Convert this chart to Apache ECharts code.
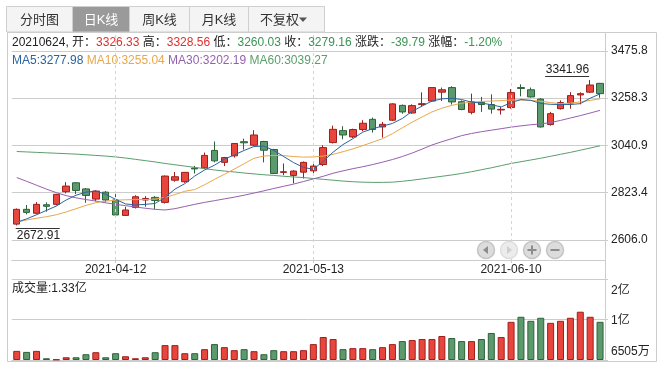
<!DOCTYPE html>
<html><head><meta charset="utf-8">
<script src="https://cdn.jsdelivr.net/npm/echarts@6/dist/echarts.min.js"></script>
<style>html,body{margin:0;padding:0;background:#fff}#c{width:667px;height:371px}</style>
</head><body><div id="c"></div>
<script>
const dates = ['2021-03-26','2021-03-29','2021-03-30','2021-03-31','2021-04-01','2021-04-02','2021-04-06','2021-04-07','2021-04-08','2021-04-09',
'2021-04-12','2021-04-13','2021-04-14','2021-04-15','2021-04-16','2021-04-19','2021-04-20','2021-04-21','2021-04-22','2021-04-23',
'2021-04-26','2021-04-27','2021-04-28','2021-04-29','2021-04-30','2021-05-06','2021-05-07','2021-05-10','2021-05-11','2021-05-12',
'2021-05-13','2021-05-14','2021-05-17','2021-05-18','2021-05-19','2021-05-20','2021-05-21','2021-05-24','2021-05-25','2021-05-26',
'2021-05-27','2021-05-28','2021-05-31','2021-06-01','2021-06-02','2021-06-03','2021-06-04','2021-06-07','2021-06-08','2021-06-09',
'2021-06-10','2021-06-11','2021-06-15','2021-06-16','2021-06-17','2021-06-18','2021-06-21','2021-06-22','2021-06-23','2021-06-24'];
const opens = [2679,2747,2729,2768,2770,2828,2869,2841,2794,2826,
2790,2719,2756,2790,2802,2779,2881,2874,2937,2938,
3018,2963,2993,3058,3042,3059,3022,2917,2903,2918,
2924,2953,3054,3109,3080,3114,3161,3126,3157,3225,
3190,3229,3245,3286,3307,3242,3193,3239,3229,3204,
3215,3307,3297,3254,3137,3210,3236,3273,3286,3326.33];
const closes = [2747,2733,2770,2761,2816,2854,2834,2811,2831,2790,
2721,2744,2805,2797,2788,2900,2897,2917,2933,2995,
2970,2985,3050,3053,3089,3019,2912,2920,2923,2963,
2946,3031,3115,3089,3114,3143,3114,3138,3232,3195,
3224,3233,3307,3297,3241,3206,3242,3229,3208,3207,
3284,3303,3264,3126,3187,3238,3270,3279,3318.95,3279.16];
const lows = [2672.91,2724,2724,2736,2765,2820,2817,2777,2784,2780,
2710,2717,2751,2759,2747,2774,2874,2869,2912,2933,
2963,2946,2985,3022,3039,2963,2909,2904,2866,2889,
2912,2946,3050,3069,3075,3106,3100,3077,3153,3187,
3187,3218,3242,3245,3229,3203,3184,3195,3187,3183,
3210,3267,3261,3123,3132,3206,3210,3230,3282,3260.03];
const highs = [2751,2767,2780,2779,2818,2872,2872,2845,2835,2831,
2817,2759,2812,2808,2808,2903,2919,2919,2947,3008,
3059,2988,3052,3072,3111,3062,3025,2958,2927,2967,
2965,3042,3132,3129,3118,3157,3169,3149,3235,3229,
3230,3285,3309,3307,3313,3248,3279,3264,3276,3218,
3300,3322,3307,3258,3195,3248,3286,3285,3341.96,3328.56];
const volumes = [2250,2000,2250,425,125,675,675,1425,1925,675,
1675,925,425,675,1925,3675,3675,1675,1675,2675,
3925,3175,2425,2675,2175,1425,2425,2175,2175,2425,
3925,5675,5175,2675,2925,2925,2675,3175,3925,4675,
4925,5175,5175,5925,5425,4675,4675,5175,6675,5675,
9425,10675,9675,10425,9175,9675,10425,11925,10675,9425];
const ma5 = [2688,2703,2722,2742,2762,2790,2812,2826,2831,2816,
2793,2772,2767,2770,2774,2802,2840,2865,2900,2928,
2950,2978,2997,3018,3036,3038,3018,2990,2962,2940,
2931,2968,3010,3045,3072,3102,3118,3130,3142,3165,
3198,3222,3245,3255,3258,3252,3240,3236,3228,3218,
3238,3252,3248,3234,3230,3229,3229,3233,3258,3277.98];
const ma10 = [2688,2698,2706,2713,2722,2735,2750,2765,2778,2785,
2789,2791,2792,2792,2794,2802,2815,2830,2838,2860,
2885,2908,2932,2957,2982,2992,2995,2994,2990,2987,
2988,2992,3000,3012,3025,3040,3056,3072,3095,3122,
3148,3172,3195,3212,3225,3235,3240,3243,3245,3247,
3250,3250,3248,3244,3238,3233,3236,3241,3248,3255.04];
const ma30 = [2893,2876,2858,2840,2824,2810,2800,2792,2785,2777,
2770,2764,2758,2752,2747,2744,2750,2760,2770,2779,
2787,2795,2803,2812,2822,2832,2843,2853,2863,2875,
2887,2899,2913,2924,2934,2943,2953,2964,2976,2990,
3006,3024,3043,3058,3072,3086,3096,3104,3111,3118,
3125,3131,3136,3140,3146,3156,3167,3178,3190,3202.19];
const ma60 = [3013,3011,3009,3007,3005,3003,3001,2998,2995,2992,
2988,2983,2977,2971,2965,2958,2952,2946,2940,2934,
2928,2923,2919,2914,2910,2906,2903,2899,2896,2893,
2889,2885,2881,2877,2874,2872,2871,2871,2872,2876,
2881,2887,2893,2899,2905,2912,2920,2929,2938,2948,
2958,2966,2974,2982,2991,3000,3009,3019,3029,3039.27];
const priceTicks = [2605.98, 2823.43, 3040.88, 3258.33, 3475.78];
const volTicks = [0, 10000, 20000];
const volTickLabels = ['6505万', '1亿', '2亿'];
const dateLabels = ['2021-04-12', '2021-05-13', '2021-06-10'];
const tabNames = ['分时图', '日K线', '周K线', '月K线', '不复权'];
const lastVolumeText = '1.33亿';

const FONT = "'Liberation Sans','Noto Sans CJK SC',sans-serif";
const UP = '#e8463d', UP_B = '#9e1f1b', DN = '#5c9a6e', DN_B = '#2c6238';
const C5 = '#2a64a0', C10 = '#e8a84c', C30 = '#9660b0', C60 = '#5a9e6c';
const GRID = '#cccccc';

const n = dates.length;
const candleData = dates.map((d, i) => [opens[i], closes[i], lows[i], highs[i]]);
const volData = volumes.map((v, i) => {
  const up = closes[i] >= opens[i];
  return { value: v, itemStyle: { color: up ? UP : DN, borderColor: up ? UP_B : DN_B } };
});
const labelIdx = dateLabels.map(d => dates.indexOf(d));
let hiI = 0, loI = 0;
for (let i = 0; i < n; i++) { if (highs[i] > highs[hiI]) hiI = i; if (lows[i] < lows[loI]) loI = i; }

const L = n - 1;
const chg = closes[L] - closes[L - 1];
const pct = chg / closes[L - 1] * 100;
const cl = (v, ref) => v >= ref ? 'r' : 'g';
const infoText = '{k|' + dates[L].replace(/-/g, '') + ', 开：}{' + cl(opens[L], closes[L-1]) + '|' + opens[L].toFixed(2) + '}' +
  '{k| 高：}{' + cl(highs[L], closes[L-1]) + '|' + highs[L].toFixed(2) + '}' +
  '{k| 低：}{' + cl(lows[L], closes[L-1]) + '|' + lows[L].toFixed(2) + '}' +
  '{k| 收：}{' + cl(closes[L], closes[L-1]) + '|' + closes[L].toFixed(2) + '}' +
  '{k| 涨跌：}{' + cl(chg, 0) + '|' + chg.toFixed(2) + '}' +
  '{k| 涨幅：}{' + cl(chg, 0) + '|' + pct.toFixed(2) + '%}';
const maText = '{a|MA5:' + ma5[L].toFixed(2) + '} {b|MA10:' + ma10[L].toFixed(2) + '} {c|MA30:' + ma30[L].toFixed(2) + '} {d|MA60:' + ma60[L].toFixed(2) + '}';

// tabs
const tabX = [6.5, 72.5, 129.5, 189.5, 248.5, 324.5];
const graphics = [];
tabNames.forEach((t, i) => {
  const active = i === 1;
  graphics.push({ type: 'rect', shape: { x: tabX[i], y: 6.5, width: tabX[i+1] - tabX[i], height: 25.5 },
    style: { fill: active ? '#9a9a9a' : '#f4f4f4', stroke: '#cfcfcf', lineWidth: 1 }, z: 10 });
  const cx = i === 4 ? (tabX[i] + tabX[i+1]) / 2 - 7 : (tabX[i] + tabX[i+1]) / 2;
  graphics.push({ type: 'text', style: { text: t, x: cx, y: 20, align: 'center', verticalAlign: 'middle',
    font: '13px ' + FONT, fill: active ? '#ffffff' : '#333333' }, z: 11 });
});
graphics.push({ type: 'polygon', shape: { points: [[299, 17.5], [307, 17.5], [303, 22]] }, style: { fill: '#555' }, z: 11 });
// frame
graphics.push({ type: 'rect', shape: { x: 7.5, y: 32.5, width: 649, height: 329 }, style: { fill: 'none', stroke: GRID, lineWidth: 1 }, z: 1, silent: true });
graphics.push({ type: 'line', shape: { x1: 605.5, y1: 32.5, x2: 605.5, y2: 361.5 }, style: { stroke: GRID, lineWidth: 1 }, z: 1 });
// info texts
graphics.push({ type: 'text', style: { text: infoText, x: 12, y: 43, verticalAlign: 'middle', font: '12px ' + FONT,
  rich: { k: { fill: '#222', font: '12px ' + FONT }, r: { fill: '#e0302c', font: '12px ' + FONT }, g: { fill: '#3a9455', font: '12px ' + FONT } } }, z: 12 });
graphics.push({ type: 'text', style: { text: maText, x: 12, y: 61, verticalAlign: 'middle', font: '12px ' + FONT,
  rich: { a: { fill: C5, font: '12px ' + FONT }, b: { fill: C10, font: '12px ' + FONT }, c: { fill: C30, font: '12px ' + FONT }, d: { fill: C60, font: '12px ' + FONT } } }, z: 12 });
graphics.push({ type: 'text', style: { text: '成交量:' + lastVolumeText, x: 12, y: 289, verticalAlign: 'middle', font: '12px ' + FONT, fill: '#222' }, z: 12 });
// nav buttons
const bx = [486, 509, 532, 555], by = 250;
bx.forEach((cx, i) => {
  const dis = i === 1;
  graphics.push({ type: 'circle', shape: { cx: cx, cy: by, r: 8.5 }, style: { fill: dis ? '#ececec' : '#dcdcdc', stroke: dis ? '#dddddd' : '#c4c4c4', lineWidth: 1.5 }, z: 12 });
  const col = dis ? '#cfcfcf' : '#8c8c8c';
  if (i === 0) graphics.push({ type: 'polygon', shape: { points: [[cx + 2, by - 4], [cx + 2, by + 4], [cx - 3, by]] }, style: { fill: col }, z: 13 });
  if (i === 1) graphics.push({ type: 'polygon', shape: { points: [[cx - 2, by - 4], [cx - 2, by + 4], [cx + 3, by]] }, style: { fill: col }, z: 13 });
  if (i === 2) { graphics.push({ type: 'line', shape: { x1: cx - 4.5, y1: by, x2: cx + 4.5, y2: by }, style: { stroke: col, lineWidth: 2 }, z: 13 });
                 graphics.push({ type: 'line', shape: { x1: cx, y1: by - 4.5, x2: cx, y2: by + 4.5 }, style: { stroke: col, lineWidth: 2 }, z: 13 }); }
  if (i === 3) graphics.push({ type: 'line', shape: { x1: cx - 4.5, y1: by, x2: cx + 4.5, y2: by }, style: { stroke: col, lineWidth: 2 }, z: 13 });
});

const lineSeries = (name, data, color) => ({ name, type: 'line', data, xAxisIndex: 0, yAxisIndex: 0, showSymbol: false, symbol: 'none',
  silent: true, lineStyle: { color, width: 1 }, itemStyle: { color }, z: 3 });

const option = {
  animation: false,
  backgroundColor: '#fff',
  textStyle: { fontFamily: FONT },
  grid: [
    { left: 11.8, right: 62, top: 33, bottom: 111 },
    { left: 11.8, right: 62, top: 279, bottom: 11 }
  ],
  xAxis: [
    { type: 'category', gridIndex: 0, data: dates, boundaryGap: true,
      axisLine: { show: true, lineStyle: { color: GRID } },
      axisTick: { show: true, alignWithLabel: true, length: 3, interval: (i) => labelIdx.includes(i), lineStyle: { color: GRID } },
      axisLabel: { show: true, interval: (i) => labelIdx.includes(i), color: '#222', fontSize: 12, margin: 4, fontFamily: FONT },
      splitLine: { show: false } },
    { type: 'category', gridIndex: 1, data: dates, boundaryGap: true,
      axisLine: { show: true, lineStyle: { color: GRID } }, axisTick: { show: false }, axisLabel: { show: false }, splitLine: { show: false } }
  ],
  yAxis: [
    { type: 'value', gridIndex: 0, position: 'right', min: 2514, max: 3558, scale: true,
      axisLine: { show: true, lineStyle: { color: GRID } },
      axisTick: { show: true, length: 3, customValues: priceTicks, lineStyle: { color: GRID } },
      axisLabel: { show: true, customValues: priceTicks, formatter: (v) => v.toFixed(1), color: '#222', fontSize: 12, margin: 6, fontFamily: FONT },
      splitLine: { show: true, lineStyle: { color: GRID, width: 1 } } },
    { type: 'value', gridIndex: 1, position: 'right', min: 0, max: 20000, interval: 10000,
      axisLine: { show: true, lineStyle: { color: GRID } },
      axisTick: { show: true, length: 3, lineStyle: { color: GRID } },
      axisLabel: { show: true, margin: 6, color: '#222', fontSize: 12, fontFamily: FONT,
        formatter: (v) => { const k = volTicks.indexOf(v); return k === 0 ? '{b|' + volTickLabels[0] + '}' : k === 2 ? '{t|' + volTickLabels[2] + '}' : '{m|' + volTickLabels[1] + '}'; },
        rich: { t: { padding: [24, 0, 0, 0], fontSize: 12, color: '#222', fontFamily: FONT },
                m: { padding: [3, 0, 0, 0], fontSize: 12, color: '#222', fontFamily: FONT },
                b: { padding: [0, 0, 16, 0], fontSize: 12, color: '#222', fontFamily: FONT } } },
      splitLine: { show: true, lineStyle: { color: GRID } } }
  ],
  graphic: graphics,
  series: [
    { name: 'K', type: 'candlestick', xAxisIndex: 0, yAxisIndex: 0, data: candleData, barWidth: 7, silent: true, z: 2,
      itemStyle: { color: UP, color0: DN, borderColor: UP_B, borderColor0: DN_B, borderWidth: 1 },
      markLine: { silent: true, symbol: ['none', 'none'], label: { show: false },
        lineStyle: { type: [3, 3], color: '#d4d4d4', width: 1 },
        data: dateLabels.map(d => ({ xAxis: d })) } },
    lineSeries('MA60', ma60, C60),
    lineSeries('MA30', ma30, C30),
    lineSeries('MA10', ma10, C10),
    lineSeries('MA5', ma5, C5),
    { type: 'custom', xAxisIndex: 0, yAxisIndex: 0, silent: true, z: 5,
      data: [[hiI, highs[hiI], 0], [loI, lows[loI], 1]],
      renderItem: (params, api) => {
        const p = api.coord([api.value(0), api.value(1)]);
        const txt = api.value(1).toFixed(2);
        if (api.value(2) === 0) {
          return { type: 'group', children: [
            { type: 'line', shape: { x1: p[0] - 45, y1: Math.round(p[1] - 3.5) + 0.5, x2: p[0] - 1, y2: Math.round(p[1] - 3.5) + 0.5 }, style: { stroke: '#333', lineWidth: 1 } },
            { type: 'text', style: { text: txt, x: p[0] - 1, y: p[1] - 4, align: 'right', verticalAlign: 'bottom', fill: '#222', font: '12px ' + FONT } } ] };
        }
        return { type: 'group', children: [
          { type: 'line', shape: { x1: p[0] - 1, y1: Math.round(p[1] + 3) + 0.5, x2: p[0] + 43, y2: Math.round(p[1] + 3) + 0.5 }, style: { stroke: '#333', lineWidth: 1 } },
          { type: 'text', style: { text: txt, x: p[0], y: p[1] + 4.5, align: 'left', verticalAlign: 'top', fill: '#222', font: '12px ' + FONT } } ] };
      } },
    { name: 'VOL', type: 'bar', xAxisIndex: 1, yAxisIndex: 1, data: volData, barWidth: 7, silent: true,
      itemStyle: { borderWidth: 1 } }
  ]
};
const chart = echarts.init(document.getElementById('c'), null, { renderer: 'canvas' });
chart.setOption(option);
</script>
</body></html>
